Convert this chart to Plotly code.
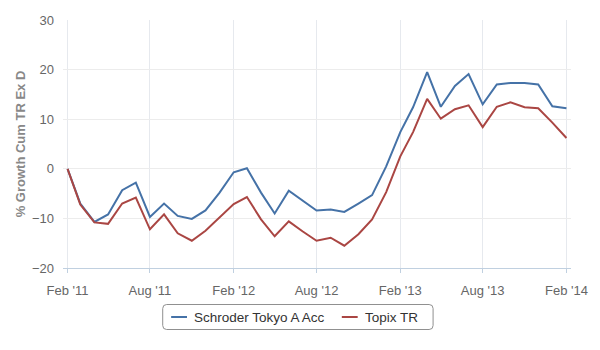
import pandas as pd
import plotly.graph_objects as go

# Monthly cumulative total-return growth (%), Feb 2011 - Feb 2014
months = pd.date_range("2011-02-01", "2014-02-01", freq="MS")

schroder_tokyo = [
    0.0, -7.0, -10.7, -9.2, -4.3, -2.8, -9.7, -7.0, -9.5, -10.1, -8.4, -4.8,
    -0.7, 0.1, -4.8, -9.0, -4.4, -6.4, -8.4, -8.2, -8.7, -7.0, -5.3, 0.5,
    7.4, 12.4, 19.5, 12.5, 16.7, 19.1, 13.0, 17.0, 17.3, 17.3, 17.0, 12.6,
    12.2,
]
topix_tr = [
    0.0, -7.2, -10.8, -11.1, -7.0, -5.8, -12.2, -9.2, -13.0, -14.5, -12.5, -9.8,
    -7.1, -5.7, -10.2, -13.6, -10.6, -12.6, -14.5, -13.9, -15.5, -13.2, -10.2, -4.7,
    2.5, 7.4, 14.1, 10.1, 12.0, 12.8, 8.4, 12.5, 13.4, 12.4, 12.2, 9.3,
    6.2,
]

x_tick_dates = ["2011-02-01", "2011-08-01", "2012-02-01", "2012-08-01",
                "2013-02-01", "2013-08-01", "2014-02-01"]
x_tick_labels = ["Feb '11", "Aug '11", "Feb '12", "Aug '12",
                 "Feb '13", "Aug '13", "Feb '14"]
y_ticks = [-20, -10, 0, 10, 20, 30]

series_names = ["Schroder Tokyo A Acc", "Topix TR"]
series_colors = ["#4572A7", "#AA4643"]

FONT = "Liberation Sans, Arial, sans-serif"
W, H = 600, 350
ML, MR, MT, MB = 63, 25, 20, 82
PW, PH = W - ML - MR, H - MT - MB


def px_x(p):
    """Pixel column -> paper x."""
    return (p - ML) / PW


def px_y(p):
    """Pixel row -> paper y."""
    return (H - MB - p) / PH


fig = go.Figure()
for name, color, values in zip(series_names, series_colors,
                               [schroder_tokyo, topix_tr]):
    fig.add_trace(go.Scatter(x=months, y=values, mode="lines", name=name,
                             line=dict(color=color, width=2),
                             showlegend=False))

# Legend box with rounded corners, drawn below the plot
x0, x1, y0, y1, r = 163.5, 436, 304.5, 329.5, 4
box_path = (
    f"M {px_x(x0 + r)},{px_y(y0)} L {px_x(x1 - r)},{px_y(y0)} "
    f"Q {px_x(x1)},{px_y(y0)} {px_x(x1)},{px_y(y0 + r)} "
    f"L {px_x(x1)},{px_y(y1 - r)} "
    f"Q {px_x(x1)},{px_y(y1)} {px_x(x1 - r)},{px_y(y1)} "
    f"L {px_x(x0 + r)},{px_y(y1)} "
    f"Q {px_x(x0)},{px_y(y1)} {px_x(x0)},{px_y(y1 - r)} "
    f"L {px_x(x0)},{px_y(y0 + r)} "
    f"Q {px_x(x0)},{px_y(y0)} {px_x(x0 + r)},{px_y(y0)} Z"
)
fig.add_shape(type="path", path=box_path, xref="paper", yref="paper",
              line=dict(color="#909090", width=1), fillcolor="rgba(0,0,0,0)")

legend_items = [(172, 193), (344, 365)]  # (symbol start, text start) in px
ly = 317
for (sx, tx), name, color in zip(legend_items, series_names, series_colors):
    fig.add_shape(type="line", xref="paper", yref="paper",
                  x0=px_x(sx), x1=px_x(sx + 16), y0=px_y(ly), y1=px_y(ly),
                  line=dict(color=color, width=2))
    fig.add_annotation(text=name, xref="paper", yref="paper",
                       x=px_x(tx), y=px_y(ly), xanchor="left", yanchor="middle",
                       showarrow=False,
                       font=dict(family=FONT, size=13.5, color="#333333"))

fig.update_layout(
    width=W, height=H,
    margin=dict(l=ML, r=MR, t=MT, b=MB),
    paper_bgcolor="white", plot_bgcolor="white",
    font=dict(family=FONT, size=13, color="#666666"),
    showlegend=False,
    xaxis=dict(
        type="date",
        range=["2011-01-22", "2014-02-11"],
        tickvals=x_tick_dates, ticktext=x_tick_labels,
        showgrid=True, gridcolor="#e6e9ee", gridwidth=1,
        showline=True, linecolor="#C0D0E0", linewidth=1,
        ticks="outside", ticklen=4, tickcolor="#C0D0E0",
        ticklabelstandoff=6,
        tickfont=dict(size=13, color="#666666"),
        zeroline=False,
    ),
    yaxis=dict(
        range=[-20, 30], tickvals=y_ticks,
        showgrid=True, gridcolor="#ececec", gridwidth=1,
        zeroline=False, showline=False,
        ticks="", ticklabelstandoff=8,
        tickfont=dict(size=13, color="#666666"),
        title=dict(text="<b>% Growth Cum TR Ex D</b>",
                   font=dict(size=13, color="#888888"), standoff=3),
    ),
)

fig.write_html("out.html")
